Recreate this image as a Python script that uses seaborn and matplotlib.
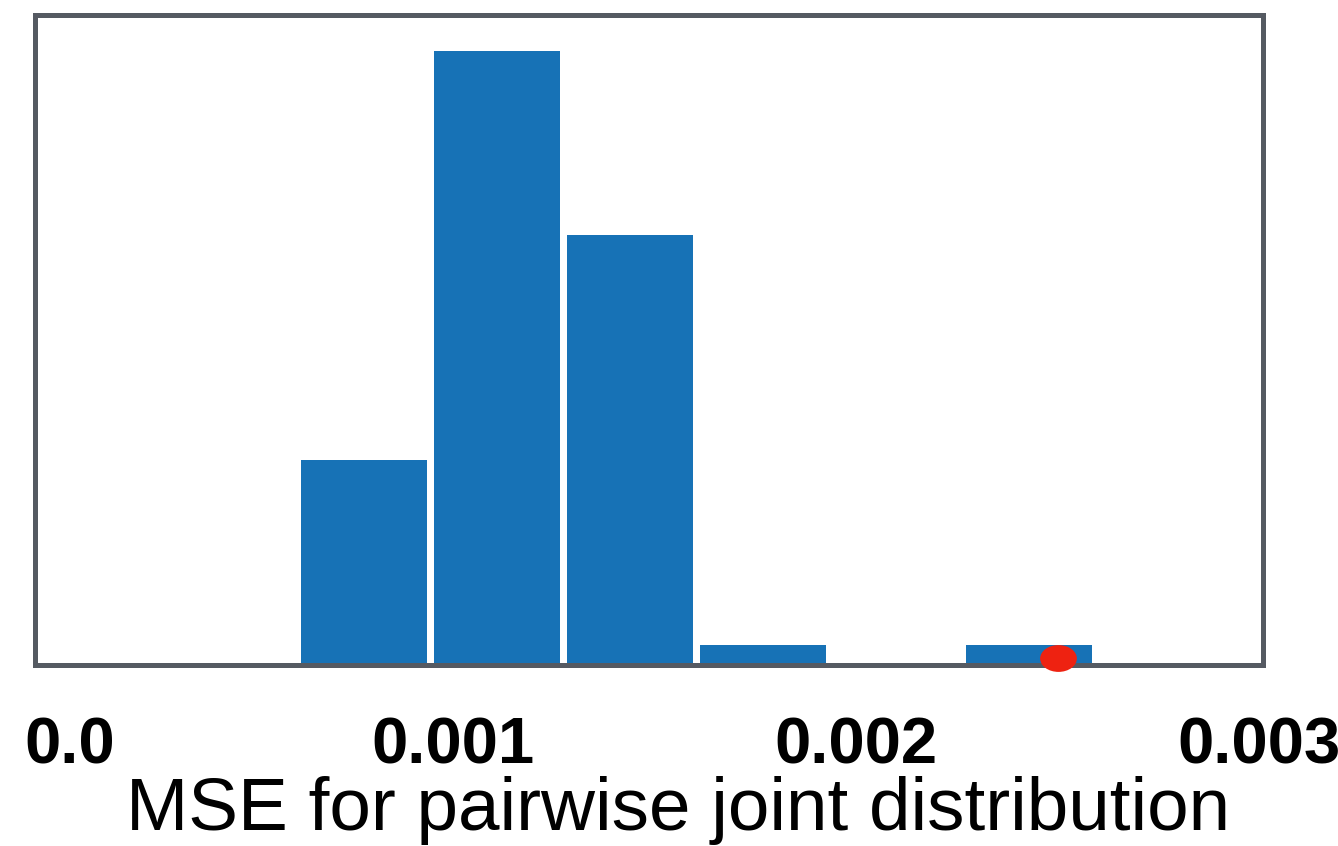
import matplotlib

matplotlib.use("Agg")
import matplotlib.pyplot as plt
import matplotlib.transforms as mtransforms
import numpy as np
import seaborn as sns
from matplotlib.path import Path

# histogram
bin_edges = [0.000614, 0.000944, 0.001274, 0.001604, 0.001934, 0.002264, 0.002594]
bin_counts = [10, 30, 21, 1, 0, 1]
marker_x = [0.0025]
marker_y = [0.35]
tick_values = [0.0, 0.001, 0.002, 0.003]
tick_labels = ["0.0", "0.001", "0.002", "0.003"]

sns.set_theme(style="white")
plt.rcParams["font.family"] = ["Liberation Sans", "DejaVu Sans"]
plt.rcParams["text.color"] = "black"
plt.rcParams["xtick.color"] = "black"
plt.rcParams["axes.labelcolor"] = "black"

fig = plt.figure(figsize=(13.38, 8.46), dpi=100)
ax = fig.add_axes([0.0262, 0.2139, 0.9178, 0.7684])

centers = [(a + b) / 2 for a, b in zip(bin_edges[:-1], bin_edges[1:])]
sns.histplot(
    x=centers,
    weights=bin_counts,
    bins=bin_edges,
    shrink=0.95,
    color="#1772b6",
    alpha=1,
    linewidth=0,
    ax=ax,
)

# stretched ellipse marker like in the original
circ = Path.unit_circle()
ellipse = Path(circ.vertices * np.array([1.37, 1.0]), circ.codes)
ax.scatter(marker_x, marker_y, s=700, marker=ellipse, color="#ee2211", zorder=5, clip_on=False, linewidths=0)

ax.set_xlim(-0.0000372, 0.00301)
ax.set_ylim(0, 31.76)
ax.set_yticks([])
ax.set_ylabel("")
ax.set_xticks(tick_values)
ax.set_xticklabels(tick_labels, fontsize=47, fontweight="bold", color="black")
ax.tick_params(axis="x", length=0, pad=37)
# the first label sits a bit right of its tick in the original
first = ax.get_xticklabels()[0]
first.set_transform(first.get_transform() + mtransforms.ScaledTranslation(0.2, 0, fig.dpi_scale_trans))
for spine in ax.spines.values():
    spine.set_color("#555a62")
    spine.set_linewidth(3.6)

ax.set_xlabel("MSE for pairwise joint distribution", fontsize=53.8, va="baseline", color="black")
ax.xaxis.set_label_coords(0.5236, -0.2545)

fig.savefig("out.png", dpi=100)
